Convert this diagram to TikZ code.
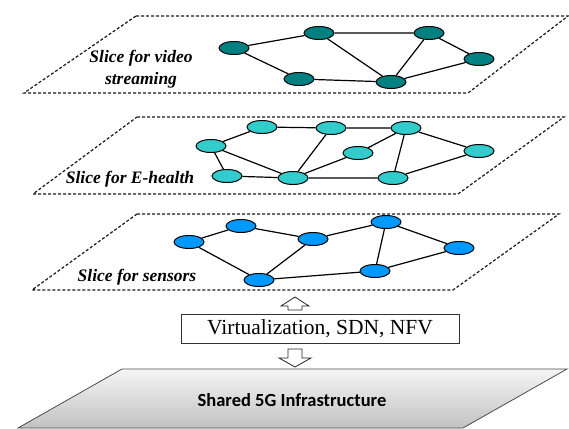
\documentclass[tikz,border=0pt]{standalone}
\usepackage{fontspec}
\setmainfont{Liberation Serif}
\newfontfamily\infrafont{Carlito}
\newfontface\slicefont{Liberation Serif Bold Italic}
\usepackage{tikz}
\usetikzlibrary{shapes.geometric,positioning,calc}
\definecolor{videoteal}{HTML}{008080}
\definecolor{healthcyan}{HTML}{33CCCC}
\definecolor{sensorblue}{HTML}{0099FF}

\begin{document}
\begin{tikzpicture}[x=1pt, y=-1pt, thick]
    \tikzset{
        slice/.style={draw=black!90, dash pattern=on 3pt off 2pt, line width=1.2pt},
        vnode/.style={draw, ellipse, fill=videoteal, minimum width=30pt, minimum height=13pt, inner sep=0pt, line width=1pt},
        hnode/.style={vnode, fill=healthcyan},
        snode/.style={vnode, fill=sensorblue},
        link/.style={draw, line width=1.2pt},
        slicelabel/.style={font=\slicefont\fontsize{17.5}{22}\selectfont, align=center},
        blockarrow/.style={draw=black!85, fill=white, line width=0.8pt}
    }
    \useasboundingbox (0,0) rectangle (569,428);

    % Slice planes
    \draw[slice] (136,16) -- (568,16) -- (468,93) -- (24,93) -- cycle;
    \draw[slice] (137,117) -- (564,117) -- (458,194) -- (33,194) -- cycle;
    \draw[slice] (137,214) -- (559,214) -- (453,290) -- (32,290) -- cycle;

    % Video streaming slice
    \node[vnode] (v1) at (234,48) {};
    \node[vnode] (v2) at (319,33) {};
    \node[vnode] (v3) at (429,33) {};
    \node[vnode] (v4) at (479,59) {};
    \node[vnode] (v5) at (299,79) {};
    \node[vnode] (v6) at (391,82) {};
    \node[slicelabel] (lvideo) at (141,69) {Slice for video\\streaming};

    % E-health slice
    \node[hnode] (h1) at (211,146) {};
    \node[hnode] (h2) at (262,127) {};
    \node[hnode] (h3) at (331,128) {};
    \node[hnode] (h4) at (406,128) {};
    \node[hnode] (h5) at (358,153) {};
    \node[hnode] (h6) at (479,151) {};
    \node[hnode] (h7) at (227,176) {};
    \node[hnode] (h8) at (293,178) {};
    \node[hnode] (h9) at (393,178) {};
    \node[slicelabel] (lhealth) at (130,179) {Slice for E-health};

    % Sensor slice
    \node[snode] (s1) at (189,242) {};
    \node[snode] (s2) at (241,226) {};
    \node[snode] (s3) at (313,239) {};
    \node[snode] (s4) at (386,222) {};
    \node[snode] (s5) at (459,248) {};
    \node[snode] (s6) at (375,271) {};
    \node[snode] (s7) at (259,280) {};
    \node[slicelabel] (lsensor) at (137,277) {Slice for sensors};

    % Video links
    \path[link] (v1) -- (v2) -- (v3) -- (v4) -- (v6) -- (v5) -- (v1);
    \path[link] (v2) -- (v6) -- (v3);

    % E-health links
    \path[link] (h7) -- (h1) -- (h2) -- (h3) -- (h4) -- (h6) -- (h9) -- (h8) -- (h7);
    \path[link] (h1) -- (h8) -- (h3);
    \path[link] (h8) -- (h5) -- (h4) -- (h9);

    % Sensor links
    \path[link] (s7) -- (s1) -- (s2) -- (s3) -- (s4) -- (s5) -- (s6) -- (s7) -- (s3);
    \path[link] (s4) -- (s6);

    % Virtualization layer
    \node[draw=black!80, line width=0.8pt, minimum width=278pt, minimum height=29pt,
          font=\fontsize{21.5}{24}\selectfont] (virt) at (320,328.5) {Virtualization, SDN, NFV};
    \draw[blockarrow] (288,310) -- (288,306) -- (281,306) -- (295,297) -- (309,306) -- (302,306) -- (302,310) -- cycle;
    \draw[blockarrow] (288,349) -- (302,349) -- (302,358) -- (311,358) -- (295,367) -- (279,358) -- (288,358) -- cycle;

    % Shared infrastructure
    \path[draw=black!70, line width=0.8pt, top color=black!4, bottom color=black!24]
        (122,369) -- (567,369) -- (463,428) -- (18,428) -- cycle;
    \node[font=\infrafont\fontsize{18.5}{22}\selectfont\bfseries] (infra) at (292,400) {Shared 5G Infrastructure};
\end{tikzpicture}
\end{document}
